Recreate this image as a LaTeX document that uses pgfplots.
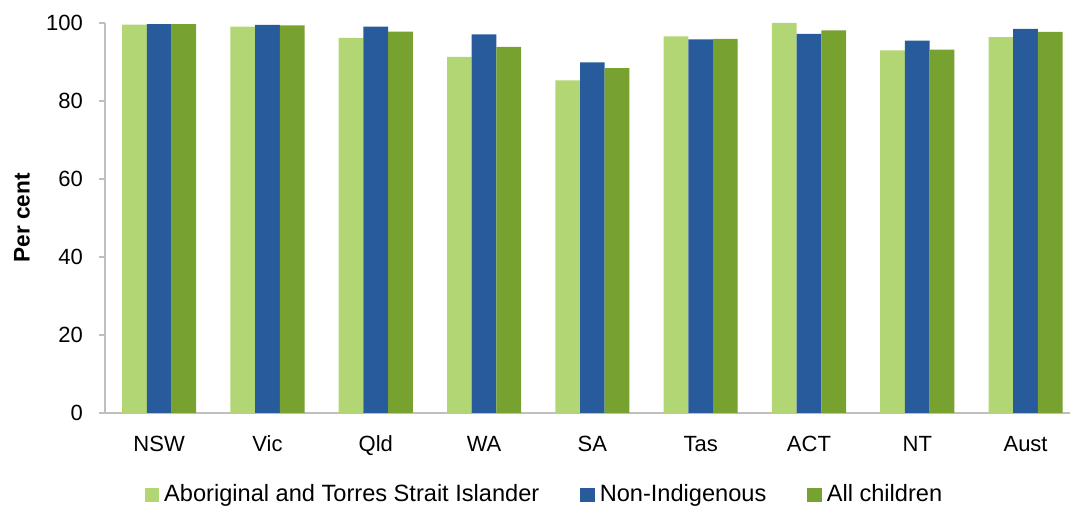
\documentclass[border=0pt]{standalone}
\usepackage{pgfplots}
\pgfplotsset{compat=1.18}
\usepackage{fontspec}
\setmainfont{Liberation Sans}
\definecolor{lgreen}{HTML}{B3D675}
\definecolor{dblue}{HTML}{285B9B}
\definecolor{dgreen}{HTML}{78A22F}
\definecolor{axgray}{HTML}{BFBFBF}
\begin{document}
\begin{tikzpicture}
\begin{axis}[
  at={(0,0)}, anchor=south west,
  scale only axis, width=482.5pt, height=195pt,
  xmin=-0.5, xmax=8.41, ymin=0, ymax=100,
  ybar=0pt, bar width=12.35pt,
  xtick={0,1,2,3,4,5,6,7,8},
  xticklabels={NSW,Vic,Qld,WA,SA,Tas,ACT,NT,Aust},
  ytick={0,20,40,60,80,100},
  axis x line*=bottom, axis y line*=left,
  axis line style={axgray, line width=0.8pt, -},
  x tick style={draw=none},
  y tick style={axgray, line width=0.8pt},
  tick align=outside, major tick length=3pt,
  /pgf/number format/assume math mode=true,
  tick label style={font=\fontsize{11}{13}\selectfont, black},
  xticklabel style={yshift=-4.5pt, text height=8pt, text depth=2pt},
  yticklabel style={xshift=-4.5pt},
  ylabel={Per cent},
  every axis y label/.style={at={(axis description cs:-0.086,0.5)}, rotate=90, anchor=center, font=\fontsize{11.3}{13}\selectfont\bfseries},
  legend style={at={(axis description cs:0.456,-0.21)}, anchor=center, draw=none, legend columns=3, font=\fontsize{11.8}{14}\selectfont,
    /tikz/every even column/.append style={column sep=19pt},
    nodes={inner sep=1.5pt}},
  legend image code/.code={\draw[#1, draw=none] (0pt,-3.6pt) rectangle (7.2pt,3.6pt);},
  /tikz/every odd column/.append style={column sep=1pt},
]
\addplot[fill=lgreen, draw=none] coordinates {(0,99.6) (1,99.1) (2,96.2) (3,91.3) (4,85.3) (5,96.6) (6,100) (7,93.0) (8,96.4)};
\addplot[fill=dblue, draw=none] coordinates {(0,99.7) (1,99.5) (2,99.1) (3,97.1) (4,89.9) (5,95.8) (6,97.2) (7,95.5) (8,98.5)};
\addplot[fill=dgreen, draw=none] coordinates {(0,99.7) (1,99.4) (2,97.8) (3,93.9) (4,88.4) (5,95.9) (6,98.1) (7,93.2) (8,97.7)};
\legend{Aboriginal and Torres Strait Islander, Non-Indigenous, All children}
\end{axis}
\pgfresetboundingbox
\path (-52.5pt,-47pt) rectangle (482.5pt,206.5pt);
\end{tikzpicture}
\end{document}
